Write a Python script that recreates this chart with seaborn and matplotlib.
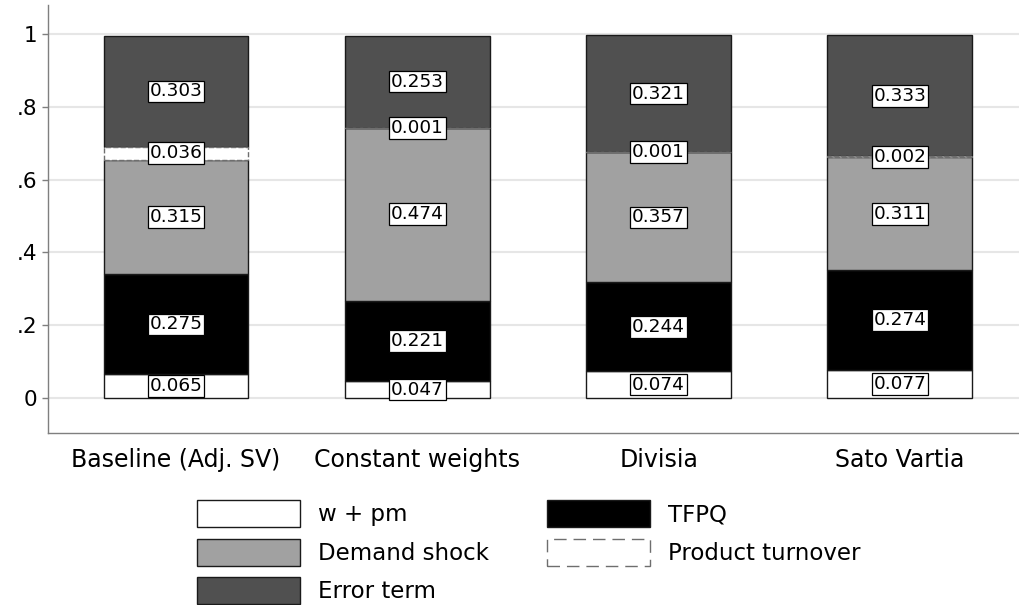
import matplotlib
matplotlib.use("Agg")
import matplotlib.pyplot as plt
from matplotlib.patches import Patch
import seaborn as sns
import pandas as pd
import numpy as np

methods = ["Baseline (Adj. SV)", "Constant weights", "Divisia", "Sato Vartia"]
w_pm = [0.065, 0.047, 0.074, 0.077]
tfpq = [0.275, 0.221, 0.244, 0.274]
demand = [0.315, 0.474, 0.357, 0.311]
turnover = [0.036, 0.001, 0.001, 0.002]
error = [0.303, 0.253, 0.321, 0.333]
yticks = [0, 0.2, 0.4, 0.6, 0.8, 1.0]
ytick_labels = ["0", ".2", ".4", ".6", ".8", "1"]

sns.set_theme(style="white")
plt.rcParams["font.family"] = ["DejaVu Sans"]
plt.rcParams["text.color"] = "black"

fig = plt.figure(figsize=(10.2, 6.05), dpi=100)
ax = fig.add_axes([48/1020, 1-433/605, (1020-48)/1020, (433-5)/605])

layers = [
    ("w + pm", w_pm, "white", "#1a1a1a", "-"),
    ("TFPQ", tfpq, "black", "#1a1a1a", "-"),
    ("Demand shock", demand, "#a1a1a1", "#1a1a1a", "-"),
    ("Product turnover", turnover, "white", "#6e6e6e", "--"),
    ("Error term", error, "#505050", "#1a1a1a", "-"),
]

df = pd.DataFrame({"method": methods})
bottom = np.zeros(len(methods))
mids = []
for name, vals, fc, ec, ls in layers:
    vals = np.asarray(vals, dtype=float)
    df["v"] = vals
    sns.barplot(data=df, x="method", y="v", order=methods, color=fc,
                saturation=1, width=0.6, bottom=bottom, edgecolor=ec,
                linewidth=1.0, linestyle=ls, ax=ax,
                zorder=4 if name == "Product turnover" else 3)
    mids.append((bottom + vals / 2, vals))
    bottom = bottom + vals

# value labels
for mid, vals in mids:
    for i, (m, v) in enumerate(zip(mid, vals)):
        ax.text(i, m, f"{v:.3f}", ha="center", va="center", fontsize=13.3,
                color="black", zorder=6,
                bbox=dict(boxstyle="square,pad=0.1", fc="white", ec="black", lw=0.9))

ax.set_xlim(-0.531, 3.498)
ax.set_ylim(-0.096, 1.08)
ax.set_yticks(yticks)
ax.set_yticklabels(ytick_labels)
ax.set_xlabel("")
ax.set_ylabel("")
ax.grid(axis="y", color="#e6e6e6", lw=1.5, zorder=0)
ax.set_axisbelow(True)
for s in ["top", "right"]:
    ax.spines[s].set_visible(False)
for s in ["left", "bottom"]:
    ax.spines[s].set_color("#7f7f7f")
    ax.spines[s].set_linewidth(1.0)
ax.tick_params(axis="y", left=True, length=4, width=1, color="#7f7f7f",
               labelsize=15.5, pad=4, labelcolor="black")
ax.tick_params(axis="x", bottom=False, length=0, labelsize=17, pad=11,
               labelcolor="black")

fs = 16.5
px = fs * 100 / 72
hh = (27 / px - 0.245) / 0.65
common = dict(loc="upper left", frameon=False, borderpad=0, borderaxespad=0,
              handlelength=103/px, handleheight=hh,
              handletextpad=18/px, labelspacing=11.5/px,
              fontsize=fs, labelcolor="black")
h1 = [Patch(fc="white", ec="#1a1a1a", lw=1.0),
      Patch(fc="#a1a1a1", ec="#1a1a1a", lw=1.0),
      Patch(fc="#505050", ec="#1a1a1a", lw=1.0)]
h2 = [Patch(fc="black", ec="#1a1a1a", lw=1.0),
      Patch(fc="white", ec="#6e6e6e", lw=1.0, ls=(0, (9, 5)))]
fig.legend(h1, ["w + pm", "Demand shock", "Error term"],
           bbox_to_anchor=(197/1020, 1-500/605), **common)
fig.legend(h2, ["TFPQ", "Product turnover"],
           bbox_to_anchor=(547/1020, 1-500/605), **common)

fig.savefig("out.png", dpi=100)
